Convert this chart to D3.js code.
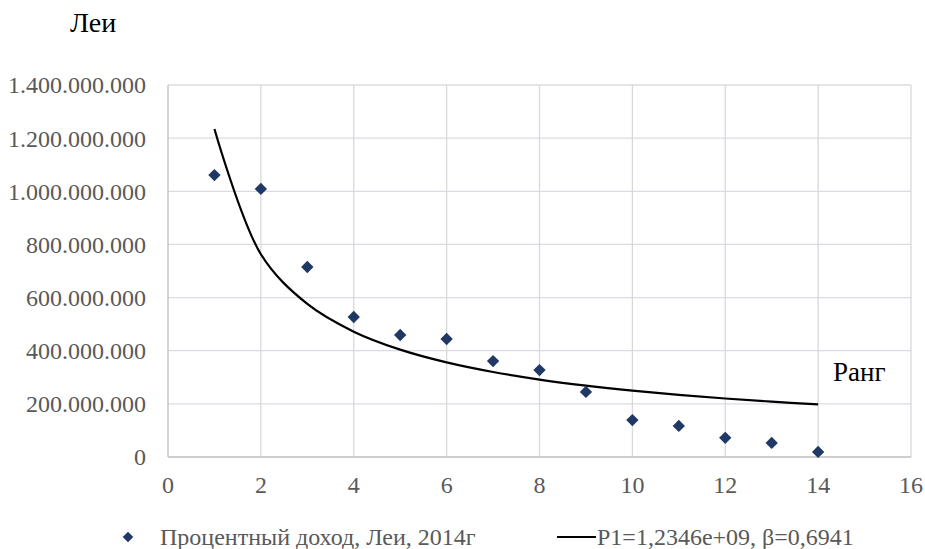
<!DOCTYPE html>
<html>
<head>
<meta charset="utf-8">
<script src="https://cdn.jsdelivr.net/npm/d3@7"></script>
<style>
  html, body { margin: 0; padding: 0; background: #fff; }
</style>
</head>
<body>
<svg id="chart" width="925" height="549"></svg>
<script>
// Rank of each bank
const ranks = [1, 2, 3, 4, 5, 6, 7, 8, 9, 10, 11, 12, 13, 14];
// Interest income, lei, 2014
const income = [1061000000, 1009000000, 715000000, 527000000, 459000000, 444000000, 361000000,
                327000000, 245000000, 139000000, 117000000, 72000000, 53000000, 19000000];
// Fitted rank-size curve values, P1 = 1.2346e9, beta = 0.6941
const fitted = [1234600000, 763100000, 576000000, 471700000, 404000000, 356000000, 319900000,
                291500000, 268700000, 249700000, 233700000, 220100000, 208200000, 197700000];
const xTicks = [0, 2, 4, 6, 8, 10, 12, 14, 16];
const yTicks = [0, 200000000, 400000000, 600000000, 800000000, 1000000000, 1200000000, 1400000000];
const seriesName = "Процентный доход, Леи, 2014г";
const fitName = "P1=1,2346e+09, β=0,6941";

(function () {
  const FONT = "'Liberation Serif', 'Times New Roman', 'DejaVu Serif', serif";
  const svg = d3.select("#chart").attr("font-family", FONT);
  const plotLeft = 168, plotRight = 911, plotTop = 85, plotBottom = 457;

  const x = d3.scaleLinear().domain([0, 16]).range([plotLeft, plotRight]);
  const y = d3.scaleLinear().domain([0, 1400000000]).range([plotBottom, plotTop]);

  const fmt = v => d3.format(",")(v).replace(/,/g, ".");

  // horizontal gridlines
  svg.append("g").selectAll("line").data(yTicks.filter(d => d > 0)).join("line")
    .attr("x1", plotLeft).attr("x2", plotRight)
    .attr("y1", d => y(d)).attr("y2", d => y(d))
    .attr("stroke", "#d9dce3").attr("stroke-width", 1.3);

  // vertical gridlines
  svg.append("g").selectAll("line").data(xTicks.filter(d => d > 0)).join("line")
    .attr("x1", d => x(d)).attr("x2", d => x(d))
    .attr("y1", plotTop).attr("y2", plotBottom)
    .attr("stroke", "#d9d9d9").attr("stroke-width", 1.3);

  // axis lines
  svg.append("line").attr("x1", plotLeft).attr("x2", plotLeft).attr("y1", plotTop).attr("y2", plotBottom)
    .attr("stroke", "#bfbfbf").attr("stroke-width", 1.3);
  svg.append("line").attr("x1", plotLeft).attr("x2", plotRight).attr("y1", plotBottom).attr("y2", plotBottom)
    .attr("stroke", "#bfbfbf").attr("stroke-width", 1.3);

  // y tick labels
  svg.append("g").selectAll("text").data(yTicks).join("text")
    .attr("x", 146).attr("y", d => y(d))
    .attr("dy", "0.35em")
    .attr("text-anchor", "end")
    .attr("font-size", 24).attr("fill", "#595959")
    .text(d => fmt(d));

  // x tick labels
  svg.append("g").selectAll("text").data(xTicks).join("text")
    .attr("x", d => x(d)).attr("y", 493)
    .attr("text-anchor", "middle")
    .attr("font-size", 24).attr("fill", "#595959")
    .text(d => d);

  // fitted curve
  const line = d3.line().x((d, i) => x(ranks[i])).y(d => y(d)).curve(d3.curveCatmullRom.alpha(0.5));
  svg.append("path").datum(fitted)
    .attr("d", line).attr("fill", "none")
    .attr("stroke", "#000").attr("stroke-width", 2.2);

  // data markers (rotated squares)
  svg.append("g").selectAll("path").data(income).join("path")
    .attr("d", d3.symbol().type(d3.symbolSquare).size(76))
    .attr("transform", (d, i) => `translate(${x(ranks[i])},${y(d)}) rotate(45)`)
    .attr("fill", "#203864");

  // axis titles
  svg.append("text").attr("x", 70).attr("y", 32).attr("font-size", 28).attr("fill", "#000").text("Леи");
  svg.append("text").attr("x", 833).attr("y", 381).attr("font-size", 27).attr("fill", "#000").text("Ранг");

  // legend
  const lg = svg.append("g");
  lg.append("path")
    .attr("d", d3.symbol().type(d3.symbolSquare).size(56))
    .attr("transform", "translate(128,537) rotate(45)")
    .attr("fill", "#203864");
  lg.append("text").attr("x", 160).attr("y", 545).attr("font-size", 24).attr("fill", "#595959").text(seriesName);
  lg.append("line").attr("x1", 557).attr("x2", 596).attr("y1", 537).attr("y2", 537)
    .attr("stroke", "#000").attr("stroke-width", 2.2);
  lg.append("text").attr("x", 597).attr("y", 545).attr("font-size", 24).attr("fill", "#595959").text(fitName);
})();
</script>
</body>
</html>
